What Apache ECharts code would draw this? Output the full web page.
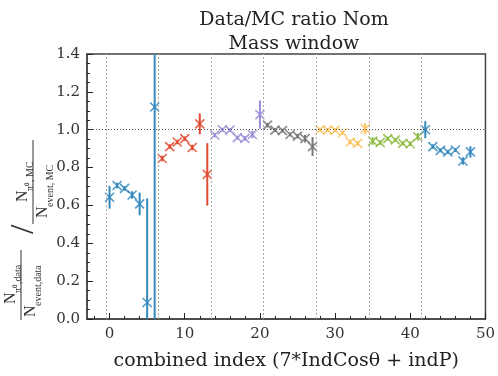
<!DOCTYPE html>
<html>
<head>
<meta charset="utf-8">
<script src="https://cdn.jsdelivr.net/npm/echarts@6/dist/echarts.min.js"></script>
<style>html,body{margin:0;padding:0;background:#fff}#main{width:498px;height:376px}</style>
</head>
<body>
<div id="main"></div>
<script>
// Data/MC ratio per combined index (7*IndCos + indP), 7 groups of 7
var ratio = [0.643, 0.705, 0.69, 0.655, 0.608, 0.087, 1.12,
             0.848, 0.911, 0.935, 0.953, 0.906, 1.031, 0.764,
             0.972, 1.0, 0.998, 0.958, 0.954, 0.975, 1.08,
             1.024, 0.998, 0.995, 0.975, 0.966, 0.953, 0.911,
             1.0, 0.998, 0.998, 0.984, 0.935, 0.928, 1.005,
             0.94, 0.932, 0.953, 0.946, 0.928, 0.926, 0.963,
             1.0, 0.911, 0.891, 0.883, 0.893, 0.835, 0.883];
var ratioErr = [0.06, 0.015, 0.012, 0.02, 0.06, 0.55, 1.5,
                0.015, 0.012, 0.012, 0.012, 0.015, 0.055, 0.165,
                0.012, 0.01, 0.01, 0.01, 0.012, 0.02, 0.075,
                0.012, 0.01, 0.01, 0.01, 0.012, 0.02, 0.05,
                0.01, 0.01, 0.01, 0.01, 0.012, 0.012, 0.03,
                0.02, 0.012, 0.01, 0.01, 0.01, 0.012, 0.02,
                0.045, 0.012, 0.01, 0.01, 0.01, 0.02, 0.03];
var groupColors = ['#348ABD', '#E24A33', '#988ED5', '#777777', '#FBC15E', '#8EBA42', '#348ABD'];
var groupEdges = [-0.5, 6.5, 13.5, 20.5, 27.5, 34.5, 41.5];
var xTickLabels = [0, 10, 20, 30, 40, 50];
var xMinorTicks = [-2, 0, 2, 4, 6, 8, 10, 12, 14, 16, 18, 20, 22, 24, 26, 28, 30, 32, 34, 36, 38, 40, 42, 44, 46, 48, 50];

var serif = 'DejaVu Serif';
var chart = echarts.init(document.getElementById('main'));

var points = ratio.map(function (v, i) {
	return [i, v, ratioErr[i], Math.floor(i / 7)];
});

//误差棒 + x 标记
function renderPoint(params, api) {
	var x = api.value(0), v = api.value(1), e = api.value(2);
	var col = groupColors[api.value(3)];
	var c = api.coord([x, v]);
	var top = api.coord([x, v + e]);
	var bot = api.coord([x, v - e]);
	var s = 4.5;
	return {
		type: 'group',
		children: [
			{type: 'line', shape: {x1: c[0], y1: top[1], x2: c[0], y2: bot[1]}, style: {stroke: col, lineWidth: 2}},
			{type: 'line', shape: {x1: c[0] - s, y1: c[1] - s, x2: c[0] + s, y2: c[1] + s}, style: {stroke: col, lineWidth: 1.6, opacity: 0.85}},
			{type: 'line', shape: {x1: c[0] - s, y1: c[1] + s, x2: c[0] + s, y2: c[1] - s}, style: {stroke: col, lineWidth: 1.6, opacity: 0.85}}
		]
	};
}

var fracFont = 'Liberation Serif';
function ylabelParts() {
	// rotated y label: N_{pi0,data}/N_{event,data} / N_{pi0,MC}/N_{event,MC}
	var t = function (x, y, text, size, va) {
		return {type: 'text', x: x, y: y, style: {text: text, font: size + 'px ' + fracFont, fill: '#333', align: 'left', verticalAlign: va || 'bottom'}};
	};
	return [
		t(-76, -8, 'N', 16), t(-65, -4, 'π⁰,data', 10),
		{type: 'line', shape: {x1: -92, y1: -6, x2: -22, y2: -6}, style: {stroke: '#333', lineWidth: 1}},
		t(-89, 12, 'N', 16), t(-78, 16, 'event,data', 10),
		t(-6, 14, '/', 34),
		t(26, 4, 'N', 16), t(37, 8, 'π⁰, MC', 10),
		{type: 'line', shape: {x1: 4, y1: 6, x2: 88, y2: 6}, style: {stroke: '#333', lineWidth: 1}},
		t(10, 24, 'N', 16), t(21, 28, 'event, MC', 10)
	];
}

var option = {
	animation: false,
	title: {
		text: 'Data/MC ratio Nom\nMass window',
		left: 289,
		top: 3,
		textAlign: 'center',
		textStyle: {fontFamily: serif, fontSize: 19, fontWeight: 'normal', color: '#222', lineHeight: 24}
	},
	grid: {left: 87, right: 7, top: 54, bottom: 55, show: true, borderColor: '#444', borderWidth: 1.5},
	xAxis: [{
		type: 'value', min: -3, max: 50,
		name: 'combined index (7*IndCosθ + indP)',
		nameLocation: 'middle', nameGap: 33,
		nameTextStyle: {fontFamily: serif, fontSize: 19, color: '#222'},
		axisLine: {onZero: false, lineStyle: {color: '#444', width: 1.5}},
		axisTick: {inside: true, length: 6, customValues: xTickLabels, lineStyle: {color: '#222'}},
		axisLabel: {customValues: xTickLabels, fontFamily: serif, fontSize: 15, color: '#333', margin: 8},
		splitLine: {show: false}
	}, {
		type: 'value', min: -3, max: 50, position: 'bottom',
		axisLine: {show: false, onZero: false},
		axisTick: {inside: true, length: 3, customValues: xMinorTicks, lineStyle: {color: '#222'}},
		axisLabel: {show: false},
		splitLine: {show: false}
	}],
	yAxis: {
		type: 'value', min: 0, max: 1.4, interval: 0.2,
		axisLine: {show: true, onZero: false, lineStyle: {color: '#444', width: 1.5}},
		axisTick: {inside: true, length: 6, lineStyle: {color: '#222'}},
		minorTick: {show: true, splitNumber: 4, length: 3, lineStyle: {color: '#222'}},
		axisLabel: {fontFamily: serif, fontSize: 15, color: '#333', margin: 7, formatter: function (v) { return v.toFixed(1); }},
		splitLine: {show: false}
	},
	graphic: [{
		type: 'group', x: 27, y: 228, rotation: Math.PI / 2,
		children: ylabelParts()
	}],
	series: [{
		type: 'line', data: [], symbol: 'none', silent: true,
		markLine: {
			symbol: 'none', silent: true, label: {show: false},
			data: groupEdges.map(function (e) {
				return {xAxis: e, lineStyle: {type: [2, 2], color: '#aaa', width: 1}};
			}).concat([{yAxis: 1.0, lineStyle: {type: [1, 2], color: '#555', width: 1}}])
		}
	}, {
		type: 'custom',
		clip: true,
		renderItem: renderPoint,
		encode: {x: 0, y: 1},
		data: points
	}]
};
chart.setOption(option);
</script>
</body>
</html>
